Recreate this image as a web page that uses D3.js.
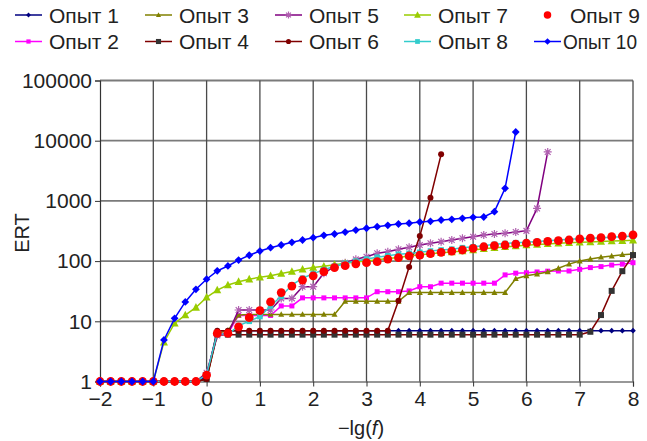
<!DOCTYPE html>
<html>
<head>
<meta charset="utf-8">
<script src="https://cdn.jsdelivr.net/npm/d3@7"></script>
<style>
  body { margin: 0; background: #fff; }
  svg { font-family: "Liberation Sans", Arial, sans-serif; }
</style>
</head>
<body>
<svg id="chart" width="647" height="441"></svg>
<script>
'use strict';

// -lg(f) sampling, step 0.2
var xs = [-2,-1.8,-1.6,-1.4,-1.2,-1,-0.8,-0.6,-0.4,-0.2,0,0.2,0.4,0.6,0.8,1,1.2,1.4,1.6,1.8,2,
  2.2,2.4,2.6,2.8,3,3.2,3.4,3.6,3.8,4,4.2,4.4,4.6,4.8,5,5.2,5.4,5.6,5.8,6,6.2,6.4,6.6,6.8,7,
  7.2,7.4,7.6,7.8,8];

var names = ['Опыт 1','Опыт 2','Опыт 3','Опыт 4','Опыт 5','Опыт 6','Опыт 7','Опыт 8','Опыт 9','Опыт 10'];

var ert1 = [1,1,1,1,1,1,1,1,1,1,1.2,
  7,7,7,7,7,7,7,7,7,7,7,7,7,7,7,7,7,7,7,7,7,7,7,7,7,7,7,7,7,7,7,7,7,7,7,7,7,7,7,7];
var ert2 = [1,1,1,1,1,1,1,1,1,1,1.3,
  6.3,6.3,12.5,12.5,12.5,12.5,18,18,24.5,24.5,24.5,24.5,24.5,24.5,24.5,31,31,31,32,37.5,37.5,
  43,43,43,43,43,43,59,63,64,66,68,68.5,68.5,73,78,81,86,89,94];
var ert3 = [1,1,1,1,1,1,1,1,1,1,1.1,
  6.3,7,12.7,13,13,13,13,13,13,13,13,13,21.5,21.5,21.5,21.5,21.5,21.5,30,30,30,30,30,30,30,30,30,30,
  51,57,61,66,76,89,100,108,116,121,128,131];
var ert4 = [1,1,1,1,1,1,1,1,1,1,1.1,
  6,6,6,6,6,6,6,6,6,6,6,6,6,6,6,6,6,6,6,6,6,6,6,6,6,6,6,6,6,6,6,6,6,6,6,6.7,12.7,32,68,126];
var ert5 = [1,1,1,1,1,1,1,1,1,1,1.4,
  5.8,6.2,15.4,15.4,15.4,15.4,24,24,37.6,37.6,63,81,94,107,118,135,143,157,170,185,198,210,224,239,
  254,272,282,290,304,318,750,6500,null,null,null,null,null,null,null,null];
var ert6 = [1,1,1,1,1,1,1,1,1,1,1.1,
  7,7,7,7,7,7,7,7,7,7,7,7,7,7,7,7,7,22,80,260,1130,5940,
  null,null,null,null,null,null,null,null,null,null,null,null,null,null,null,null,null,null];
var ert7 = [1,1,1,1,1,1,4.5,9.3,12.7,17,25,
  33,40,45.5,50,54,57,62,67,73,78,82,87,92,97,100,105,110,115,121,127,132,137,142,147,153,
  160,166,172,178,184,189,193,197,201,205,208,211,215,218,222];
var ert8 = [1,1,1,1,1,1,1,1,1,1,1.3,
  6.3,6,8.5,10,12,18,26,40,52,62,72,82,92,100,108,116,123,130,134,140,147,153,158,167,173,
  180,190,196,202,206,212,218,224,230,235,240,244,250,255,260];
var ert9 = [1,1,1,1,1,1,1,1,1,1,1.28,
  6.3,6.3,8.1,11.5,15,21,30,38.5,48.5,57,67,78,84,90,94,98,108,114,122,126,133,140,147,153,163,
  173,180,185,192,198,205,212,218,224,233,240,245,255,260,272];
var ert10 = [1,1,1,1,1,1,4.9,11.2,21,34,50,
  69,83,104,125,147,167,185,205,224,245,268,282,304,328,351,373,393,413,425,446,458,482,495,514,
  534,540,662,1620,13960,null,null,null,null,null,null,null,null,null,null,null];

var xTicks = [-2,-1,0,1,2,3,4,5,6,7,8];
var yTicks = [1,10,100,1000,10000,100000];

var series = [ert1,ert2,ert3,ert4,ert5,ert6,ert7,ert8,ert9,ert10];

// look of each series: line colour, marker, marker fill, marker size (half width)
var looks = [
  {line:'#000080', sym:'diamond',  fill:'#000080', size:2.8},
  {line:'#ff00ff', sym:'square',   fill:'#ff00ff', size:2.5},
  {line:'#808000', sym:'triangle', fill:'#808000', size:3},
  {line:'#800000', sym:'square',   fill:'#333333', size:3},
  {line:'#800080', sym:'asterisk', fill:'#b060b0', size:4},
  {line:'#800000', sym:'circle',   fill:'#800000', size:3},
  {line:'#99cc00', sym:'triangle', fill:'#99cc00', size:4},
  {line:'#33cccc', sym:'square',   fill:'#33cccc', size:2.8},
  {line:null,      sym:'circle',   fill:'#ff0000', size:4.4},
  {line:'#0000ff', sym:'diamond',  fill:'#0000ff', size:3.9}
];

var svg = d3.select('#chart');
var pLeft = 100, pRight = 633, pTop = 80.5, pBottom = 381.5;

var x = d3.scaleLinear().domain([-2, 8]).range([pLeft, pRight]);
var y = d3.scaleLog().domain([1, 100000]).range([pBottom, pTop]);

function symbolPath(look, k){
  var r = look.size * (k || 1), a;
  if (look.sym === 'asterisk'){
    a = r * 0.72;
    return 'M'+(-r)+',0L'+r+',0M0,'+(-r)+'L0,'+r+
      'M'+(-a)+','+(-a)+'L'+a+','+a+'M'+(-a)+','+a+'L'+a+','+(-a);
  }
  if (look.sym === 'diamond') return 'M0,'+(-r)+'L'+r+',0L0,'+r+'L'+(-r)+',0Z';
  if (look.sym === 'square') return 'M'+(-r)+','+(-r)+'H'+r+'V'+r+'H'+(-r)+'Z';
  if (look.sym === 'triangle') return 'M0,'+(-r*1.1)+'L'+r+','+(r*0.8)+'L'+(-r)+','+(r*0.8)+'Z';
  return d3.symbol().type(d3.symbolCircle).size(Math.PI * r * r)();
}

// grid
var grid = svg.append('g');
grid.selectAll('.hg').data(yTicks.slice(1)).enter().append('line')
    .attr('x1', pLeft).attr('x2', pRight)
    .attr('y1', function(d){ return y(d); }).attr('y2', function(d){ return y(d); })
    .style('stroke', '#7a7a7a').style('stroke-width', 1.8);
grid.selectAll('.vg').data(xTicks.slice(1)).enter().append('line')
    .attr('x1', function(d){ return x(d); }).attr('x2', function(d){ return x(d); })
    .attr('y1', pTop).attr('y2', pBottom)
    .style('stroke', '#4a4a4a').style('stroke-width', 1.3);

// axes
var yAxis = svg.append('g').attr('transform', 'translate(' + pLeft + ',0)')
    .call(d3.axisLeft(y).tickValues(yTicks).tickFormat(d3.format('d')).tickSize(5).tickPadding(3));
var xAxis = svg.append('g').attr('transform', 'translate(0,' + pBottom + ')')
    .call(d3.axisBottom(x).tickValues(xTicks).tickFormat(function(d){ return d < 0 ? '\u2212' + Math.abs(d) : d; })
      .tickSize(5).tickPadding(5));
[yAxis, xAxis].forEach(function(a){
  a.select('.domain').style('stroke', '#333').style('stroke-width', 1.2);
  a.selectAll('.tick line').style('stroke', '#333');
  a.selectAll('text').style('font-size', '21px').style('fill', '#222')
    .style('font-family', '"Liberation Sans", Arial, sans-serif');
});

// axis titles
svg.append('text')
    .attr('transform', 'translate(29,233) rotate(-90)')
    .style('text-anchor', 'middle').style('font-size', '20px').style('fill', '#222')
    .text('ERT');
var xt = svg.append('text')
    .attr('x', 361).attr('y', 435)
    .style('text-anchor', 'middle').style('font-size', '20px').style('fill', '#222');
xt.append('tspan').text('\u2212lg(');
xt.append('tspan').style('font-style', 'italic').text('f');
xt.append('tspan').text(')');

// series
var line = d3.line()
    .defined(function(d){ return d[1] !== null; })
    .x(function(d){ return x(d[0]); })
    .y(function(d){ return y(d[1]); });

function styleMarker(sel, look){
  sel.style('fill', look.sym === 'asterisk' ? 'none' : look.fill)
     .style('stroke', look.sym === 'asterisk' ? look.fill : 'none')
     .style('stroke-width', 1.2);
}

series.forEach(function(vals, i){
  var look = looks[i];
  var pts = xs.map(function(v, j){ return [v, vals[j]]; });
  var g = svg.append('g');
  if (look.line){
    g.append('path').datum(pts).attr('d', line)
        .style('fill', 'none').style('stroke', look.line).style('stroke-width', 1.5);
  }
  g.selectAll('path.m').data(pts.filter(function(d){ return d[1] !== null; }))
      .enter().append('path').attr('class', 'm')
      .attr('transform', function(d){ return 'translate(' + x(d[0]) + ',' + y(d[1]) + ')'; })
      .attr('d', symbolPath(look))
      .call(styleMarker, look);
});

// legend: two rows of five
var legX = [15, 145, 275, 404, 534];
var legY = [15, 41.5];
names.forEach(function(n, i){
  var col = Math.floor(i / 2), row = i % 2, look = looks[i];
  var lx = legX[col], ly = legY[row];
  var g = svg.append('g');
  if (look.line){
    g.append('line').attr('x1', lx).attr('x2', lx + 27).attr('y1', ly).attr('y2', ly)
        .style('stroke', look.line).style('stroke-width', 1.5);
  }
  g.append('path').attr('transform', 'translate(' + (lx + 13.5) + ',' + ly + ')')
      .attr('d', symbolPath(look, 0.85))
      .call(styleMarker, look);
  var t = g.append('text').attr('x', lx + (i === 9 ? 29 : 34) + (i === 8 ? 2 : 0)).attr('y', ly + 7.5)
      .style('font-size', '21px').style('fill', '#222')
      .text(n);
  if (i === 9) t.attr('textLength', 74).attr('lengthAdjust', 'spacingAndGlyphs');
});
</script>
</body>
</html>
